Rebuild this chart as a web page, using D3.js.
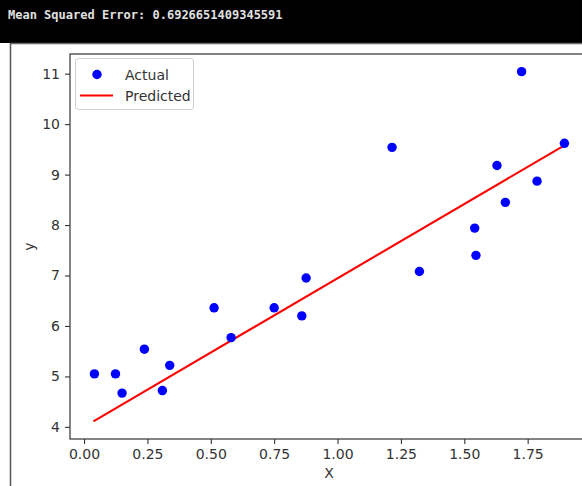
<!DOCTYPE html>
<html>
<head>
<meta charset="utf-8">
<script src="https://cdn.jsdelivr.net/npm/d3@7"></script>
<style>
  body { margin: 0; background: #fff; }
  svg text { font-family: "DejaVu Sans", sans-serif; }
</style>
</head>
<body>
<div id="chart"></div>
<script>
var xActual = [0.041, 0.124, 0.150, 0.238, 0.309, 0.338, 0.513, 0.580, 0.750, 0.859,
               0.876, 1.215, 1.323, 1.541, 1.546, 1.629, 1.662, 1.726, 1.787, 1.895];
var yActual = [5.05, 5.05, 4.67, 5.54, 4.72, 5.22, 6.36, 5.77, 6.36, 6.20,
               6.95, 9.54, 7.08, 7.94, 7.40, 9.18, 8.45, 11.04, 8.87, 9.62];
var xPredicted = [0.037, 1.895];
var yPredicted = [4.11, 9.58];
var xTicks = [0, 0.25, 0.5, 0.75, 1.0, 1.25, 1.5, 1.75];
var yTicks = [4, 5, 6, 7, 8, 9, 10, 11];
var mseText = 'Mean Squared Error: 0.6926651409345591';

var width = 582, height = 486;
// axes box (right edge falls outside the picture, as in the screenshot)
var axLeft = 70, axRight = 588, axTop = 54, axBottom = 439;

var svg = d3.select('#chart').append('svg')
    .attr('width', width).attr('height', height);

svg.append('rect').attr('width', width).attr('height', height).attr('fill', '#fff');

// console strip on top
svg.append('rect').attr('x', 0).attr('y', 0).attr('width', width).attr('height', 43).attr('fill', '#000');
svg.append('text')
    .attr('x', 8).attr('y', 19)
    .style('font-family', '"DejaVu Sans Mono", monospace')
    .style('font-size', '12px')
    .style('font-weight', 'bold')
    .attr('fill', '#e0e0e0')
    .text(mseText);
svg.append('line').attr('x1', 10).attr('x2', width).attr('y1', 43.5).attr('y2', 43.5)
    .attr('stroke', '#666').attr('stroke-width', 1.5);
svg.append('line').attr('x1', 10.5).attr('x2', 10.5).attr('y1', 43).attr('y2', height)
    .attr('stroke', '#555').attr('stroke-width', 1.5);

var x = d3.scaleLinear().domain([-0.0554, 1.988]).range([axLeft, axRight]);
var y = d3.scaleLinear().domain([3.76, 11.39]).range([axBottom, axTop]);

// axes
var xAxis = svg.append('g').attr('transform', 'translate(0,' + axBottom + ')')
    .call(d3.axisBottom(x).tickValues(xTicks).tickFormat(d3.format('.2f')).tickSize(5).tickPadding(5));
var yAxis = svg.append('g').attr('transform', 'translate(' + axLeft + ',0)')
    .call(d3.axisLeft(y).tickValues(yTicks).tickFormat(d3.format('d')).tickSize(5).tickPadding(5));
[xAxis, yAxis].forEach(function(a) {
  a.select('.domain').remove();
  a.selectAll('line').attr('stroke', '#333').attr('stroke-width', 1.1);
  a.selectAll('text').attr('fill', '#333').style('font-size', '14px').style('font-family', '"DejaVu Sans", sans-serif');
});

// spines
svg.append('rect').attr('x', axLeft).attr('y', axTop).attr('width', axRight - axLeft).attr('height', axBottom - axTop)
    .attr('fill', 'none').attr('stroke', '#333').attr('stroke-width', 1.2);

// labels
svg.append('text').attr('x', (axLeft + axRight) / 2).attr('y', 478)
    .attr('text-anchor', 'middle').attr('fill', '#333').style('font-size', '14px').text('X');
svg.append('text').attr('transform', 'translate(34,' + ((axTop + axBottom) / 2) + ') rotate(-90)')
    .attr('text-anchor', 'middle').attr('fill', '#333').style('font-size', '14px').text('y');

// predicted line
var line = d3.line().x(function(d) { return x(d[0]); }).y(function(d) { return y(d[1]); });
svg.append('path')
    .datum(d3.zip(xPredicted, yPredicted))
    .attr('d', line)
    .attr('fill', 'none').attr('stroke', '#ff0000').attr('stroke-width', 2.1);

// actual points
svg.selectAll('.pt').data(d3.zip(xActual, yActual)).enter().append('circle')
    .attr('class', 'pt')
    .attr('cx', function(d) { return x(d[0]); })
    .attr('cy', function(d) { return y(d[1]); })
    .attr('r', 4.7)
    .attr('fill', '#0000ff');

// legend
var lg = svg.append('g');
lg.append('rect').attr('x', 75.5).attr('y', 58.5).attr('width', 118).attr('height', 51)
    .attr('rx', 3).attr('fill', '#fff').attr('fill-opacity', 0.8)
    .attr('stroke', '#d0d0d0').attr('stroke-width', 1);
lg.append('circle').attr('cx', 97).attr('cy', 74.5).attr('r', 4.7).attr('fill', '#0000ff');
lg.append('line').attr('x1', 80).attr('x2', 113).attr('y1', 95.5).attr('y2', 95.5)
    .attr('stroke', '#ff0000').attr('stroke-width', 2.1);
lg.append('text').attr('x', 125).attr('y', 79.5).attr('fill', '#333').style('font-size', '14px').text('Actual');
lg.append('text').attr('x', 125).attr('y', 100.5).attr('fill', '#333').style('font-size', '14px').text('Predicted');
</script>
</body>
</html>
